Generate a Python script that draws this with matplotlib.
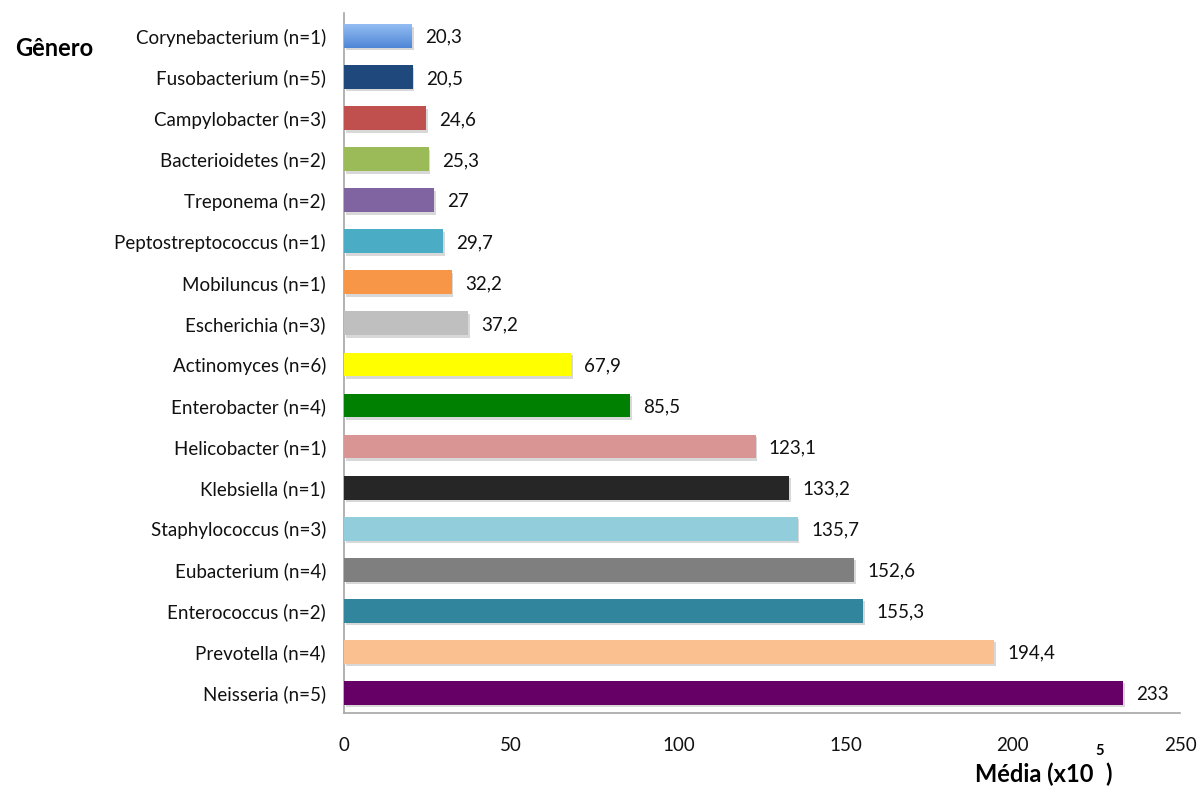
import matplotlib
matplotlib.use("Agg")
import matplotlib.pyplot as plt
import matplotlib.patheffects as pe
import numpy as np
from matplotlib.colors import LinearSegmentedColormap

plt.rcParams['font.family'] = ['Lato', 'DejaVu Sans']

generos = ["Neisseria (n=5)", "Prevotella (n=4)", "Enterococcus (n=2)", "Eubacterium (n=4)",
           "Staphylococcus (n=3)", "Klebsiella (n=1)", "Helicobacter (n=1)", "Enterobacter (n=4)",
           "Actinomyces (n=6)", "Escherichia (n=3)", "Mobiluncus (n=1)", "Peptostreptococcus (n=1)",
           "Treponema (n=2)", "Bacterioidetes (n=2)", "Campylobacter (n=3)", "Fusobacterium (n=5)",
           "Corynebacterium (n=1)"]
medias = [233, 194.4, 155.3, 152.6, 135.7, 133.2, 123.1, 85.5, 67.9, 37.2, 32.2, 29.7,
          27, 25.3, 24.6, 20.5, 20.3]
rotulos = ["233", "194,4", "155,3", "152,6", "135,7", "133,2", "123,1", "85,5", "67,9",
           "37,2", "32,2", "29,7", "27", "25,3", "24,6", "20,5", "20,3"]
cores = ["#660066", "#fac090", "#31859c", "#7f7f7f", "#92cddc", "#262626", "#d99594",
         "#008000", "#ffff00", "#bfbfbf", "#f79646", "#4bacc6", "#8064a2", "#9bbb59",
         "#c0504d", "#1f497d", "#75a9e6"]
xticks = [0, 50, 100, 150, 200, 250]

fig = plt.figure(figsize=(11.99, 7.87), dpi=100)
ax = fig.add_axes([0.2869, 0.094, 0.6973, 0.8895])

pos = list(range(len(generos)))
altura = 0.58
bars = ax.barh(pos, medias, height=altura, color=cores, zorder=3)
for b in bars:
    b.set_path_effects([pe.SimplePatchShadow(offset=(1.2, -1.8), shadow_rgbFace="#909090", alpha=0.35),
                        pe.Normal()])

# vertical gradient fill on the Corynebacterium bar
grad_cmap = LinearSegmentedColormap.from_list("azul", ["#4f86d6", "#93bdf2"])
topo = bars[-1]
grad = np.linspace(0, 1, 64).reshape(-1, 1)
im = ax.imshow(grad, cmap=grad_cmap, aspect="auto", origin="lower", zorder=4,
               extent=(0, medias[-1], pos[-1] - altura / 2, pos[-1] + altura / 2))
im.set_clip_path(topo)

for y, v, t in zip(pos, medias, rotulos):
    ax.annotate(t, (v, y), xytext=(9.5, -1), textcoords="offset points",
                va="center", ha="left", fontsize=13.5, color="#111111")

ax.set_xlim(0, 250)
ax.set_ylim(-0.49, 16.56)
ax.set_xticks(xticks)
ax.set_xticklabels([str(x) for x in xticks], fontsize=13.5)
ax.set_yticks(pos)
ax.set_yticklabels(generos, fontsize=13.5)
ax.tick_params(axis="both", length=0, colors="#111111")
ax.tick_params(axis="x", pad=17)
ax.tick_params(axis="y", pad=13)

for s in ["top", "right"]:
    ax.spines[s].set_visible(False)
for s in ["left", "bottom"]:
    ax.spines[s].set_color("#a6a6a6")
    ax.spines[s].set_linewidth(1.2)

fig.text(0.0125, 0.939, "Gênero", fontsize=17, fontweight="bold", va="center", ha="left")
fig.text(0.813, 0.006, "Média (x10", fontsize=17, fontweight="bold", va="baseline", ha="left")
fig.text(0.9175, 0.046, "5", fontsize=10.5, fontweight="bold", va="center", ha="center")
fig.text(0.922, 0.006, ")", fontsize=17, fontweight="bold", va="baseline", ha="left")

fig.savefig("out.png", dpi=100)
